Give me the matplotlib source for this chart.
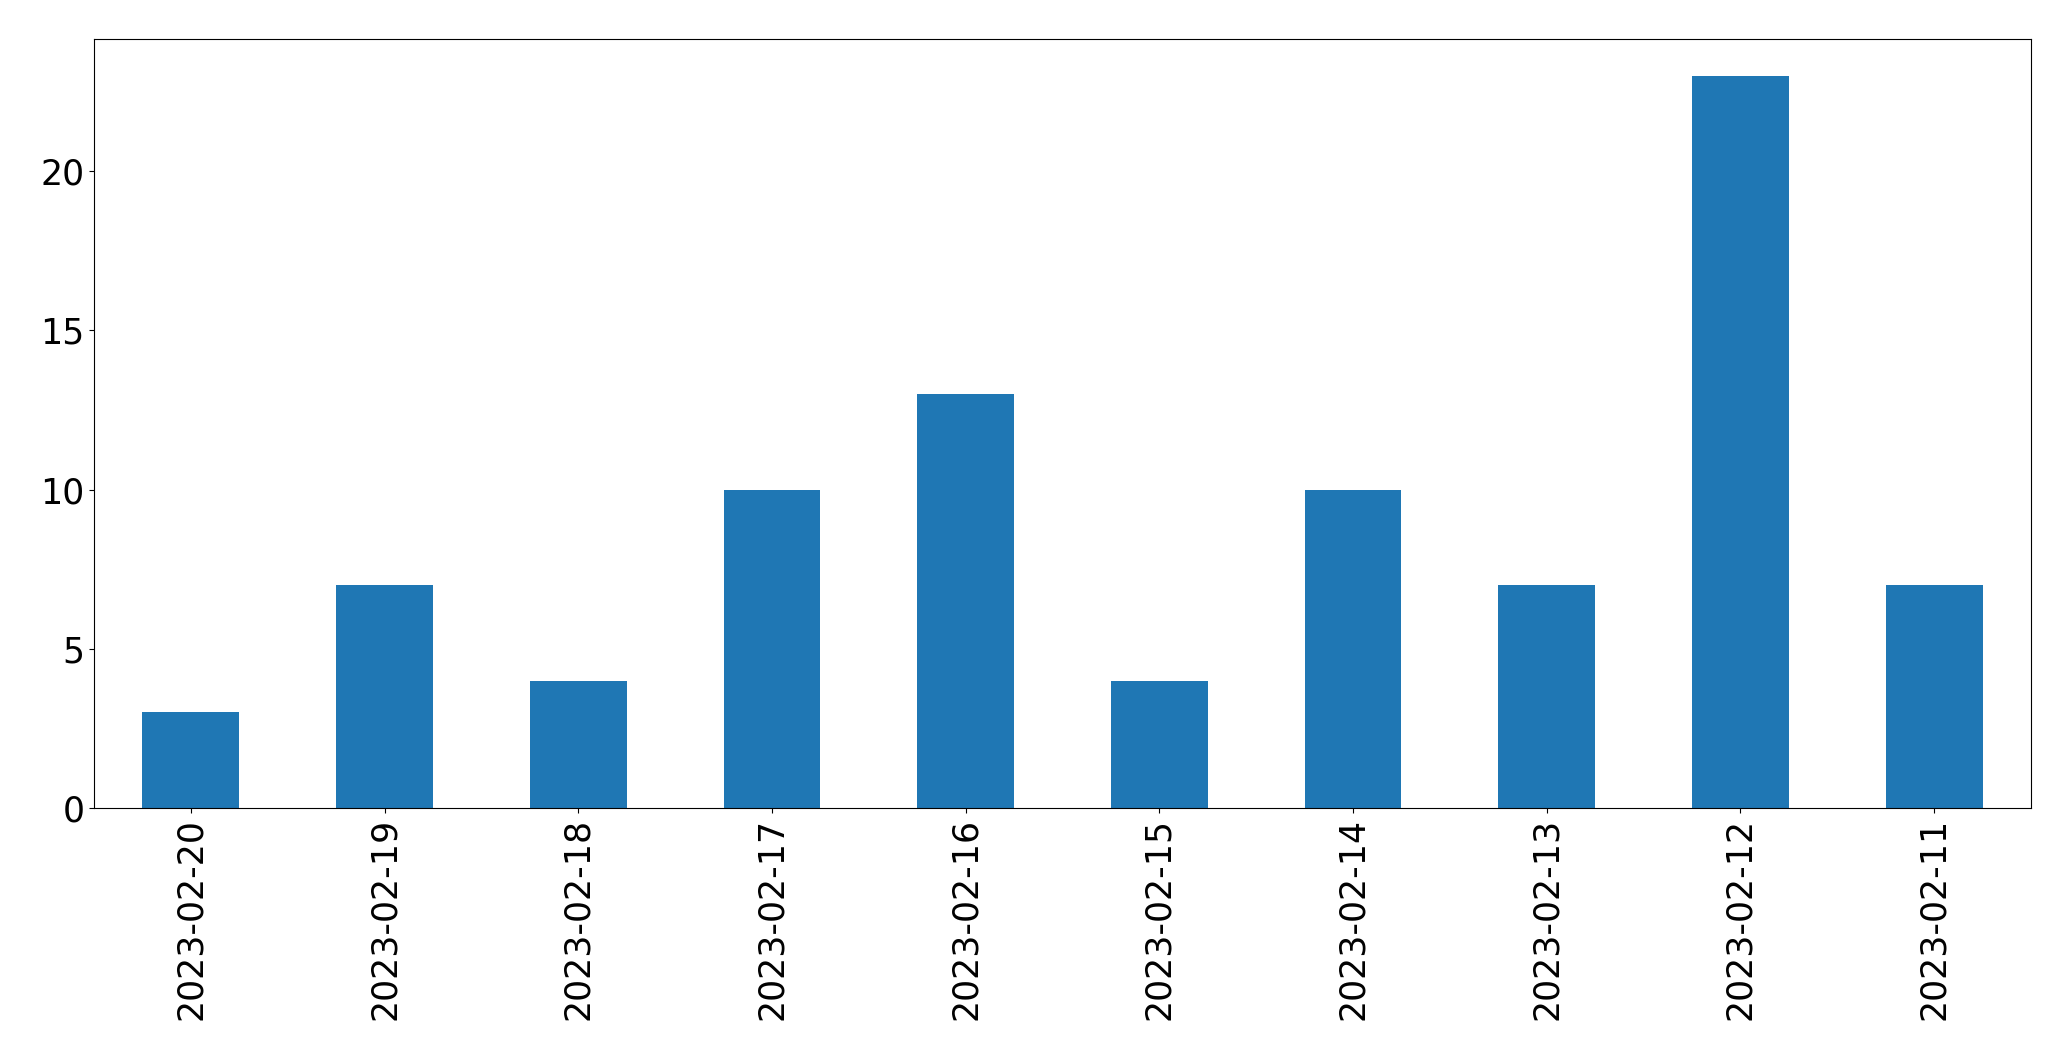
import numpy as np
import matplotlib
matplotlib.use('Agg')
import matplotlib.pyplot as plt

dates = ['2023-02-20', '2023-02-19', '2023-02-18', '2023-02-17', '2023-02-16',
         '2023-02-15', '2023-02-14', '2023-02-13', '2023-02-12', '2023-02-11']
counts = [3, 7, 4, 10, 13, 4, 10, 7, 23, 7]

fig = plt.figure(figsize=(20.71, 10.61), dpi=100)
ax = fig.add_axes([94 / 2071, 1 - 808 / 1061, (2031 - 94) / 2071, (808 - 39) / 1061])

x = np.arange(len(dates))
ax.bar(x, counts, width=0.5, color='#1f77b4')
ax.set_xlim(-0.5, len(dates) - 0.5)
ax.set_ylim(0, max(counts) * 1.05)
ax.set_xticks(x)
ax.set_xticklabels(dates, rotation=90)
ax.set_yticks([0, 5, 10, 15, 20])
ax.tick_params(labelsize=25)

fig.savefig('out.png', dpi=100)
